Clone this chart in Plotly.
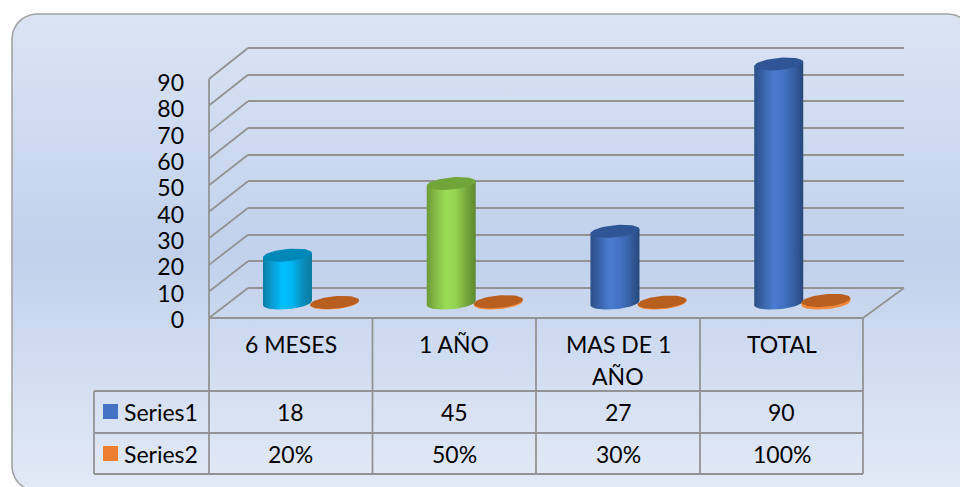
import numpy as np
import plotly.graph_objects as go

# ---- data ----
categories = ["6 MESES", "1 AÑO", "MAS DE 1<br>AÑO", "TOTAL"]
series1_name = "Series1"
series2_name = "Series2"
series1 = [18, 45, 27, 90]
series2 = [0.20, 0.50, 0.30, 1.00]
y_ticks = [0, 10, 20, 30, 40, 50, 60, 70, 80, 90]

# ---- style ----
FONT = "Lato"
FS = 23
W, H = 960, 487
GRID = "#939393"
point_grad = [
    ["#0A7DA6", "#0A9FD6", "#00BFFF", "#00B4F0", "#0A8FBE", "#0A7A9F"],
    ["#6B9A3A", "#86BE48", "#9ADD55", "#94D350", "#76A83E", "#5E8A30"],
    ["#2B4E85", "#3A66AD", "#4A7BD0", "#4472C4", "#3560A4", "#284779"],
    ["#2B4E85", "#3A66AD", "#4A7BD0", "#4472C4", "#3560A4", "#284779"],
]
point_mid = ["#00BFFF", "#9ADD55", "#4472C4", "#4472C4"]
point_top = ["#0089B8", "#70A53A", "#2F5597", "#2F5597"]
ORANGE_RIM = "#F5883A"
ORANGE_TOP = "#B85F20"


def vdom(py_low, py_high):
    return [(H - py_low) / H, (H - py_high) / H]


# plane geometry (pixels)
BACK = dict(x0=248, x1=904, y0=288, y90=48)
FRONT = dict(x0=209, x1=863, y0=318, y90=79)
MID = dict(x0=229, x1=884, y0=303, y90=64)
sx = (MID["x1"] - MID["x0"]) / 4
ky = (MID["y0"] - MID["y90"]) / 90
back_k = (BACK["y0"] - BACK["y90"]) / 90
A, B, TILT = 24.5, 6.2, 2.2
OFF1, OFF2 = -23.4 / sx, 23.8 / sx
PAD_MID = 10
PAD_BACK = 2


def ellipse(cx, v, t):
    return cx + A * np.cos(t) / sx, v + (TILT * np.cos(t) - B * np.sin(t)) / ky


def add_cylinder(fig, cx, v, grad, top, xa="x3", ya="y3"):
    stops = np.linspace(0, 1, len(grad))
    t = np.linspace(np.pi, 0, 40)
    ex, ey = ellipse(cx, 0, t)
    tx, ty = ellipse(cx, v, np.array([0, np.pi]))
    x = list(ex) + list(tx)
    y = list(ey) + list(ty)
    fig.add_trace(go.Scatter(
        x=x, y=y, xaxis=xa, yaxis=ya, mode="lines", line=dict(width=0),
        fill="toself", hoverinfo="skip", showlegend=False,
        fillgradient=dict(type="horizontal", start=cx - A / sx, stop=cx + A / sx,
                          colorscale=[[float(s), c] for s, c in zip(stops, grad)]),
    ))
    t = np.linspace(0, 2 * np.pi, 60)
    ex, ey = ellipse(cx, v, t)
    fig.add_trace(go.Scatter(
        x=ex, y=ey, xaxis=xa, yaxis=ya, mode="lines", line=dict(width=0),
        fill="toself", fillcolor=top, hoverinfo="skip", showlegend=False,
    ))


fig = go.Figure()

# card background on a full-canvas axis pair
R = 25
L, T, RR, BB = 12, 14, 973, 491
arc = np.linspace(0, np.pi / 2, 14)
card_x = np.concatenate([
    L + R - R * np.cos(arc), RR - R + R * np.sin(arc),
    RR - R + R * np.cos(arc), L + R - R * np.sin(arc)])
card_y = np.concatenate([
    T + R - R * np.sin(arc), T + R - R * np.cos(arc),
    BB - R + R * np.sin(arc), BB - R + R * np.cos(arc)])
fig.add_trace(go.Scatter(
    x=np.append(card_x, card_x[0]), y=np.append(card_y, card_y[0]),
    mode="lines", line=dict(color="#A3A3A3", width=1.6), fill="toself",
    fillgradient=dict(type="vertical", start=T, stop=BB,
                      colorscale=[[0, "#DBE4F4"], [0.5, "#C1D1EC"], [1, "#E3EAF6"]]),
    hoverinfo="skip", showlegend=False,
))

# back wall gridlines
fig.add_trace(go.Scatter(x=[0], y=[0], xaxis="x2", yaxis="y2", mode="lines",
                         hoverinfo="skip", showlegend=False, opacity=0))

# real bars, sitting inside the cylinder shading
fig.add_trace(go.Bar(
    x=list(range(4)), y=series1, name=series1_name, xaxis="x3", yaxis="y3",
    marker=dict(color=point_mid, line=dict(width=0)),
    width=0.2, offset=OFF1 - 0.1, hoverinfo="skip", showlegend=False,
))
fig.add_trace(go.Bar(
    x=list(range(4)), y=series2, name=series2_name, xaxis="x3", yaxis="y3",
    marker=dict(color=ORANGE_RIM, line=dict(width=0)),
    width=0.2, offset=OFF2 - 0.1, hoverinfo="skip", showlegend=False,
))
for i, v in enumerate(series1):
    add_cylinder(fig, i + OFF1, v, point_grad[i], point_top[i])
for i, v in enumerate(series2):
    add_cylinder(fig, i + OFF2, v, [ORANGE_RIM] * 2, ORANGE_TOP)

# value-axis labels
fig.add_trace(go.Scatter(x=[0], y=[0], xaxis="x4", yaxis="y4", mode="lines",
                         hoverinfo="skip", showlegend=False, opacity=0))

layout = dict(
    template="none",
    width=W, height=H, margin=dict(l=0, r=0, t=0, b=0, pad=0, autoexpand=False), autosize=False,
    paper_bgcolor="white", plot_bgcolor="rgba(0,0,0,0)", showlegend=False,
    barmode="overlay", font=dict(family=FONT, size=FS, color="#000000"),
    xaxis=dict(domain=[0, 1], range=[0, W], visible=False, fixedrange=True),
    yaxis=dict(domain=[0, 1], range=[H, 0], visible=False, fixedrange=True),
    xaxis2=dict(domain=[BACK["x0"] / W, BACK["x1"] / W], range=[0, 1], anchor="y2",
                showgrid=False, showticklabels=False, zeroline=False, ticks="", showline=False),
    yaxis2=dict(domain=vdom(BACK["y0"] + PAD_BACK * back_k, BACK["y90"] - PAD_BACK * back_k),
                range=[-PAD_BACK, 90 + PAD_BACK], anchor="x2",
                tickvals=y_ticks, showticklabels=False, showgrid=True, gridcolor=GRID,
                gridwidth=2.4, zeroline=False, ticks="", showline=False),
    xaxis3=dict(domain=[MID["x0"] / W, MID["x1"] / W], range=[-0.5, 3.5], anchor="y3",
                visible=False),
    yaxis3=dict(domain=vdom(MID["y0"] + PAD_MID * ky, MID["y90"] - PAD_MID * ky),
                range=[-PAD_MID, 90 + PAD_MID], anchor="x3", visible=False),
    xaxis4=dict(domain=[185 / W, 209 / W], range=[0, 1], anchor="y4", visible=False),
    yaxis4=dict(domain=vdom(320, 83), range=[0, 90], anchor="x4", tickvals=y_ticks,
                showgrid=False, zeroline=False, showline=False, ticks="",
                tickfont=dict(family=FONT, size=FS, color="#000000")),
)
fig.update_layout(**layout)

# wall diagonals and front edges
def front_y(v):
    return FRONT["y0"] + (FRONT["y90"] - FRONT["y0"]) * v / 90


def back_y(v):
    return BACK["y0"] + (BACK["y90"] - BACK["y0"]) * v / 90


def seg(x0, y0, x1, y1, width=1.8, color=GRID):
    fig.add_shape(type="line", xref="x", yref="y", x0=x0, y0=y0, x1=x1, y1=y1,
                  line=dict(color=color, width=width), layer="above")


for v in y_ticks:
    seg(FRONT["x0"], front_y(v), BACK["x0"], back_y(v))
seg(FRONT["x1"], front_y(0), BACK["x1"], back_y(0))
seg(FRONT["x0"], front_y(90), FRONT["x0"], front_y(0))
seg(FRONT["x0"], front_y(0), FRONT["x1"], front_y(0), 2.2)

# data table
col_x = [209, 372.5, 536, 700, 863]
row_y = [318, 391, 433, 474]
KEY_L = 94
for cx in col_x:
    seg(cx, row_y[0], cx, row_y[-1])
for ry in row_y[1:]:
    seg(KEY_L, ry, col_x[-1], ry)
seg(KEY_L, row_y[1], KEY_L, row_y[-1])


def label(px, py, text, anchor="center"):
    fig.add_annotation(xref="x", yref="y", x=px, y=py, text=text, showarrow=False,
                       xanchor=anchor, yanchor="middle", align=anchor,
                       font=dict(family=FONT, size=FS, color="#000000"))


for i, name in enumerate(categories):
    cx = (col_x[i] + col_x[i + 1]) / 2
    for j, part in enumerate(name.split("<br>")):
        label(cx, 344 + 32 * j, part)
    label(cx, 412, str(series1[i]))
    label(cx, 454, f"{series2[i]:.0%}")

for py, name, colour in [(411.5, series1_name, "#4472C4"), (453.5, series2_name, "#ED7D31")]:
    fig.add_shape(type="rect", xref="x", yref="y", x0=103, x1=118, y0=py - 7.5, y1=py + 7.5,
                  fillcolor=colour, line=dict(width=0), layer="above")
    label(122, py, name, "left")

fig.write_html("out.html", config=dict(displayModeBar=False),
               post_script="document.body.style.margin='0';document.body.style.overflow='hidden';")
